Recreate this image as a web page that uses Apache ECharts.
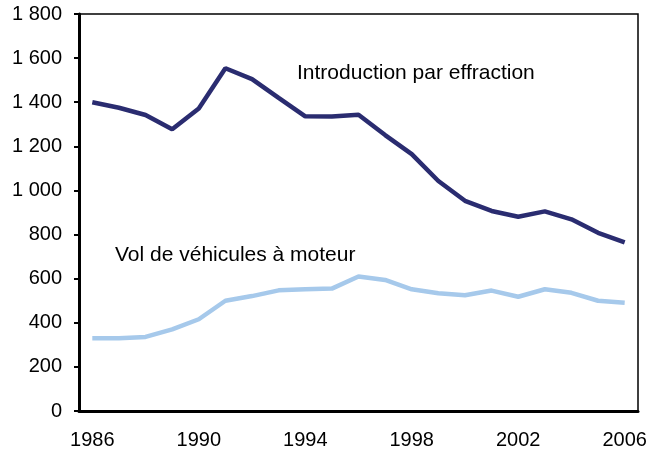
<!DOCTYPE html>
<html>
<head>
<meta charset="utf-8">
<script src="https://cdn.jsdelivr.net/npm/echarts@6/dist/echarts.min.js"></script>
<style>
  html, body { margin: 0; padding: 0; background: #fff; }
  #chart { width: 658px; height: 453px; }
</style>
</head>
<body>
<div id="chart"></div>
<script>
var years = ['1986','1987','1988','1989','1990','1991','1992','1993','1994','1995','1996',
             '1997','1998','1999','2000','2001','2002','2003','2004','2005','2006'];
var effraction = [1400,1375,1342,1277,1372,1554,1505,1420,1336,1335,1343,
                  1251,1165,1043,953,907,881,905,869,808,765];
var vehicules = [330,330,336,370,416,500,521,547,552,555,610,
                 594,552,534,525,546,518,552,536,500,491];
var yTicks = [0,200,400,600,800,1000,1200,1400,1600,1800];

var font = 'Liberation Sans, Arial, Helvetica, sans-serif';

var chart = echarts.init(document.getElementById('chart'));
chart.setOption({
  animation: false,
  grid: {
    left: 79, top: 14, right: 20, bottom: 42,
    show: true, borderColor: '#000', borderWidth: 1.5
  },
  xAxis: {
    type: 'category',
    data: years,
    boundaryGap: true,
    axisLine: { lineStyle: { color: '#000', width: 3 } },
    axisTick: { inside: true, length: 7, interval: 0, lineStyle: { color: '#000', width: 2 } },
    axisLabel: { interval: 3, color: '#000', fontSize: 20, fontFamily: font, margin: 19 }
  },
  yAxis: {
    type: 'value',
    min: yTicks[0],
    max: yTicks[yTicks.length - 1],
    interval: 200,
    splitLine: { show: false },
    axisLine: { show: true, lineStyle: { color: '#000', width: 3 } },
    axisTick: { show: true, length: 5, lineStyle: { color: '#000', width: 2 } },
    axisLabel: {
      color: '#000', fontSize: 20, fontFamily: font, margin: 17,
      formatter: function (v) { return String(v).replace(/\B(?=(\d{3})+(?!\d))/g, ' '); }
    }
  },
  series: [
    {
      name: 'Introduction par effraction',
      type: 'line',
      data: effraction,
      symbol: 'none',
      lineStyle: { color: '#2a2c70', width: 4.5 }
    },
    {
      name: 'Vol de véhicules à moteur',
      type: 'line',
      data: vehicules,
      symbol: 'none',
      lineStyle: { color: '#a6c9eb', width: 4.5 }
    }
  ],
  graphic: [
    { type: 'text', left: 297, top: 63,
      style: { text: 'Introduction par effraction', fill: '#000', fontSize: 21, fontFamily: font } },
    { type: 'text', left: 115, top: 245,
      style: { text: 'Vol de véhicules à moteur', fill: '#000', fontSize: 21, fontFamily: font } }
  ]
});
</script>
</body>
</html>
